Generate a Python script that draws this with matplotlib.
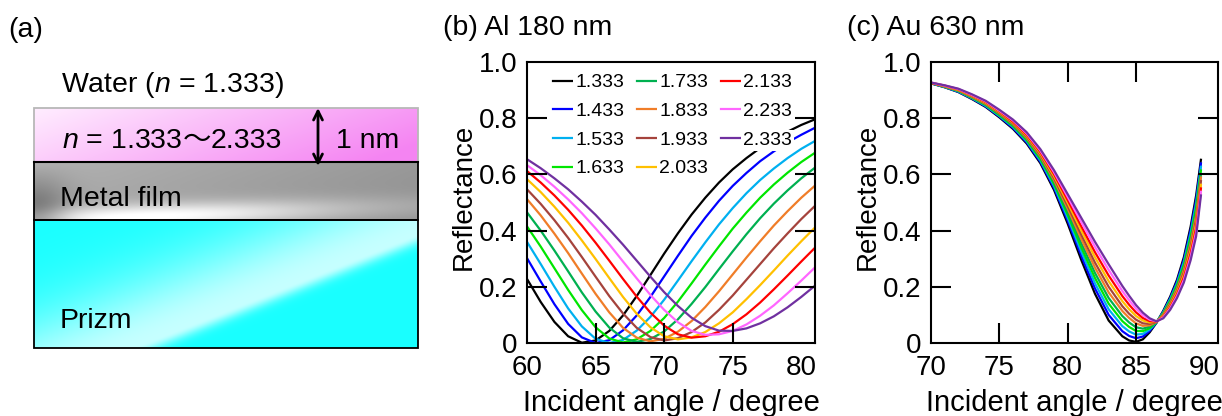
import numpy as np
import matplotlib
matplotlib.use("Agg")
import matplotlib.pyplot as plt
from matplotlib.patches import Rectangle

plt.rcParams['font.family'] = ['Liberation Sans', 'DejaVu Sans']
plt.rcParams['mathtext.fontset'] = 'custom'
plt.rcParams['mathtext.rm'] = 'Liberation Sans'
plt.rcParams['mathtext.it'] = 'Liberation Sans:italic'

# Refractive index of the 1 nm layer (legend labels)
labels = ["1.333", "1.433", "1.533", "1.633", "1.733", "1.833",
          "1.933", "2.033", "2.133", "2.233", "2.333"]
colors = ["#000000", "#0000ff", "#00b0f0", "#00e600", "#00b050", "#f07d28",
          "#a5433c", "#ffc000", "#ff0000", "#ff66ff", "#7030a0"]

# (b) Al 180 nm, reflectance vs incident angle
angles_al = [60, 61, 62, 63, 64, 65, 66, 67, 68, 69, 70,
             71, 72, 73, 74, 75, 76, 77, 78, 79, 80, 81]
al_1333 = [.228, .146, .075, .024, .001, .009, .043, .098, .167, .242, .318, .390, .457, .517, .571, .618, .658, .694, .725, .752, .776, .796]
al_1433 = [.302, .219, .138, .068, .020, .000, .010, .045, .098, .164, .237, .310, .381, .446, .506, .559, .605, .647, .682, .714, .741, .766]
al_1533 = [.360, .281, .200, .123, .059, .015, .000, .011, .044, .093, .154, .222, .291, .358, .422, .480, .533, .580, .621, .658, .691, .719]
al_1633 = [.415, .343, .266, .189, .117, .056, .016, .002, .013, .043, .089, .147, .212, .279, .344, .407, .464, .517, .564, .606, .644, .677]
al_1733 = [.465, .400, .329, .255, .180, .112, .055, .017, .004, .014, .041, .084, .139, .199, .263, .326, .387, .444, .496, .543, .586, .624]
al_1833 = [.512, .454, .389, .320, .247, .175, .109, .054, .019, .006, .015, .040, .078, .128, .184, .244, .304, .362, .418, .469, .517, .560]
al_1933 = [.547, .495, .437, .374, .306, .236, .167, .105, .054, .021, .009, .017, .039, .073, .118, .169, .225, .281, .337, .390, .441, .488]
al_2033 = [.583, .537, .485, .428, .365, .299, .231, .164, .104, .056, .024, .013, .020, .039, .070, .109, .156, .206, .258, .311, .362, .411]
al_2133 = [.612, .571, .525, .474, .418, .357, .293, .228, .165, .108, .062, .031, .019, .024, .040, .067, .102, .144, .191, .240, .290, .339]
al_2233 = [.633, .597, .556, .511, .462, .408, .351, .290, .230, .171, .118, .074, .043, .029, .031, .043, .066, .097, .134, .177, .222, .269]
al_2333 = [.654, .622, .586, .547, .503, .456, .404, .350, .293, .236, .181, .132, .090, .060, .044, .043, .052, .070, .095, .127, .164, .204]

# (c) Au 630 nm
angles_au = [70, 71, 72, 73, 74, 75, 76, 77, 78, 79, 80, 81, 82, 83, 84, 84.5, 85,
             85.5, 86, 86.5, 87, 87.5, 88, 88.5, 89, 89.4, 89.75]
au_1333 = [.924, .910, .893, .868, .840, .803, .762, .710, .640, .545, .425, .295, .175, .080, .024, .009, .004, .013, .038, .072, .115, .165, .225, .305, .415, .525, .652]
au_1433 = [.924, .911, .894, .870, .842, .806, .765, .714, .645, .552, .436, .310, .194, .100, .042, .025, .017, .023, .043, .073, .112, .160, .219, .296, .403, .511, .639]
au_1533 = [.925, .911, .895, .871, .844, .808, .769, .718, .650, .559, .446, .325, .212, .120, .060, .041, .030, .032, .048, .073, .110, .156, .212, .287, .391, .496, .627]
au_1633 = [.925, .912, .897, .873, .847, .811, .772, .722, .655, .566, .457, .340, .231, .140, .078, .057, .043, .042, .053, .074, .107, .151, .206, .278, .379, .482, .614]
au_1733 = [.925, .913, .898, .875, .849, .814, .775, .726, .660, .573, .467, .355, .249, .160, .096, .073, .056, .051, .058, .074, .104, .146, .199, .269, .367, .467, .601]
au_1833 = [.926, .913, .899, .876, .851, .817, .779, .730, .665, .580, .478, .370, .268, .180, .114, .089, .070, .061, .063, .075, .102, .142, .193, .260, .355, .453, .589]
au_1933 = [.926, .914, .900, .878, .853, .819, .782, .734, .670, .587, .488, .385, .286, .200, .131, .104, .083, .070, .068, .075, .099, .137, .186, .251, .343, .438, .576]
au_2033 = [.926, .915, .901, .880, .855, .822, .785, .738, .675, .594, .499, .400, .305, .220, .149, .120, .096, .080, .073, .076, .096, .132, .180, .242, .331, .424, .563]
au_2133 = [.926, .916, .903, .882, .858, .825, .788, .742, .680, .601, .509, .415, .323, .240, .167, .136, .109, .089, .078, .076, .093, .127, .173, .233, .319, .409, .550]
au_2233 = [.927, .916, .904, .883, .860, .827, .792, .746, .685, .608, .520, .430, .342, .260, .185, .152, .122, .099, .083, .077, .091, .123, .167, .224, .307, .395, .538]
au_2333 = [.927, .917, .905, .885, .862, .830, .795, .750, .690, .615, .530, .445, .360, .280, .203, .168, .135, .108, .088, .077, .088, .118, .160, .215, .295, .380, .525]

al_curves = [al_1333, al_1433, al_1533, al_1633, al_1733, al_1833,
             al_1933, al_2033, al_2133, al_2233, al_2333]
au_curves = [au_1333, au_1433, au_1533, au_1633, au_1733, au_1833,
             au_1933, au_2033, au_2133, au_2233, au_2333]

W, H = 1222, 416
fig = plt.figure(figsize=(W / 100, H / 100), dpi=100)
renderer = fig.canvas.get_renderer()

# ---------- (a) layer schematic, drawn in pixel units ----------
ax_a = fig.add_axes([0, 0, 430 / W, 1])
ax_a.axis('off')

def gradient_box(x0, x1, y0, y1, img, edge):
    ax_a.imshow(img, extent=(x0, x1, y1, y0), aspect='auto', interpolation='bilinear', zorder=1)
    ax_a.add_patch(Rectangle((x0, y0), x1 - x0, y1 - y0, fill=False, ec=edge, lw=1.3, zorder=2))

u, v = np.meshgrid(np.linspace(0, 1, 200), np.linspace(0, 1, 60))
# pink layer: light at top-left, deeper magenta to the right
light, deep = np.array([1.0, 0.93, 1.0]), np.array([0.96, 0.52, 0.95])
s = np.clip(0.8 * u + 0.3 * v, 0, 1)[..., None]
pink = light * (1 - s) + deep * s
# metal film: grey, dark at the lower left, soft highlight along the bottom
base = 0.70 - 0.1 * u - 0.04 * v
amp = 0.32 * np.exp(-((u - 0.3) / 0.45) ** 2) + 0.06
band = amp * np.exp(-((v - (0.95 - 0.25 * (u - 0.3))) / 0.22) ** 2)
dark = 0.3 * np.exp(-(u / 0.09) ** 2) * v
metal = np.dstack([np.clip(base + band - dark, 0, 1)] * 3)
# prism: cyan with a diagonal white sheen
u2, v2 = np.meshgrid(np.linspace(0, 1, 200), np.linspace(0, 1, 120))
d = (u2 - 0.26) * 0.89 + (v2 - 1.0) * 0.74
w = np.where(d < 0, 0.75 * np.exp(-(d / 0.42) ** 2), 0.75 * np.exp(-(d / 0.06) ** 2))
w = np.clip(w, 0, 1)[..., None]
prism = np.array([0.1, 1.0, 1.0]) * (1 - w) + np.array([1.0, 1.0, 1.0]) * w

gradient_box(34, 418, 108, 162, pink, '#b8b8b8')
gradient_box(34, 418, 162, 220, metal, 'black')
gradient_box(34, 418, 220, 348, prism, 'black')
ax_a.plot([34, 418], [162, 162], color='black', lw=1.5, zorder=3)
ax_a.set_xlim(0, 430)
ax_a.set_ylim(H, 0)

fs = 20.5
ax_a.text(8, 37, "(a)", fontsize=fs, va='baseline')
ax_a.text(61, 92.5, "Water ($n$ = 1.333)", fontsize=fs, va='baseline')
# "n = 1.333～2.333": the wave dash comes from a CJK font
x = 62
for txt, fam in [("$n$ = 1.333", ['Liberation Sans']), ("～", ['Noto Sans CJK JP']), ("2.333", ['Liberation Sans'])]:
    t = ax_a.text(x, 148, txt, fontsize=fs, va='baseline', family=fam)
    bb = t.get_window_extent(renderer=renderer)
    x = ax_a.transData.inverted().transform((bb.x1, bb.y0))[0]
ax_a.annotate('', xy=(318, 108), xytext=(318, 166),
              arrowprops=dict(arrowstyle='<->', lw=2, color='black', shrinkA=0, shrinkB=0, mutation_scale=16))
ax_a.text(336, 148, "1 nm", fontsize=fs, va='baseline')
ax_a.text(60, 206, "Metal film", fontsize=fs, va='baseline')
ax_a.text(60, 328, "Prizm", fontsize=fs, va='baseline')

# ---------- (b) and (c) reflectance curves ----------
def setup(ax, xlim, xticks, top):
    ax.set_xlim(*xlim)
    ax.set_ylim(0, 1.0)
    ax.set_xticks(xticks)
    ax.set_xticklabels([str(t) for t in xticks])
    ax.set_yticks([0, 0.2, 0.4, 0.6, 0.8, 1.0])
    ax.set_yticklabels(["0", "0.2", "0.4", "0.6", "0.8", "1.0"])
    ax.tick_params(direction='in', length=14.5, width=1.5, labelsize=20, top=top, right=True)
    ax.tick_params(axis='x', pad=8.5)
    ax.tick_params(axis='y', pad=7)
    for tk in [ax.xaxis.get_major_ticks()[0], ax.xaxis.get_major_ticks()[-1],
               ax.yaxis.get_major_ticks()[0], ax.yaxis.get_major_ticks()[-1]]:
        tk.tick1line.set_visible(False)
        tk.tick2line.set_visible(False)
    for sp in ax.spines.values():
        sp.set_linewidth(1.5)
    ax.set_axisbelow(False)
    ax.set_xlabel("Incident angle / degree", fontsize=21)
    ax.set_ylabel("Reflectance", fontsize=20)
    ax.xaxis.set_label_coords(0.5, -0.162)
    ax.yaxis.set_label_coords(-0.175, 0.52)

ax_b = fig.add_axes([527 / W, 1 - 343 / H, 288 / W, 281 / H])
for r, c, lab in zip(al_curves, colors, labels):
    ax_b.plot(angles_al, r, color=c, lw=1.6, label=lab)
setup(ax_b, (60, 81), [60, 65, 70, 75, 80], top=False)
leg = ax_b.legend(ncol=3, loc='upper left', bbox_to_anchor=(0.09, 0.958), frameon=False,
                  fontsize=14, handlelength=1.0, handletextpad=0.15, columnspacing=0.65,
                  labelspacing=0.57, borderpad=0, borderaxespad=0)
for t in leg.get_texts():
    t.set_bbox(dict(facecolor='white', edgecolor='none', pad=1.5))

ax_c = fig.add_axes([931 / W, 1 - 343 / H, 287 / W, 281 / H])
for r, c, lab in zip(au_curves, colors, labels):
    ax_c.plot(angles_au, r, color=c, lw=1.6, label=lab)
setup(ax_c, (70, 91), [70, 75, 80, 85, 90], top=True)

fig.text(443 / W, 1 - 35 / H, "(b) Al 180 nm", fontsize=20.5, va='baseline')
fig.text(847 / W, 1 - 35 / H, "(c) Au 630 nm", fontsize=20.5, va='baseline')

fig.savefig("out.png", dpi=100)
